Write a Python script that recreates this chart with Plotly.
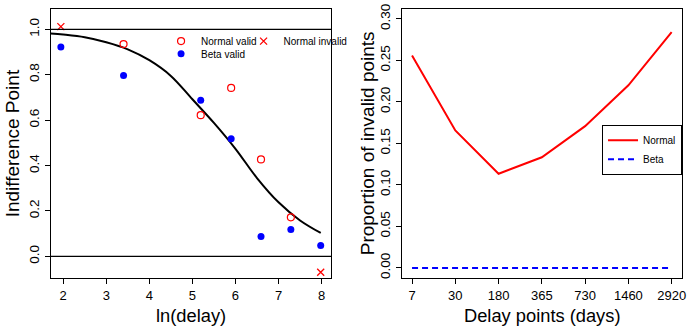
import numpy as np
import plotly.graph_objects as go

# ---------------- data ----------------
delays = [7, 30, 180, 365, 730, 1460, 2920]
delay_labels = ["7", "30", "180", "365", "730", "1460", "2920"]

normal_valid_delays = [30, 180, 365, 730, 1460]
normal_valid_ip = [0.935, 0.622, 0.742, 0.427, 0.172]

normal_invalid_delays = [7, 2920]
normal_invalid_ip = [1.012, -0.070]

beta_valid_delays = [7, 30, 180, 365, 730, 1460, 2920]
beta_valid_ip = [0.922, 0.797, 0.688, 0.518, 0.087, 0.118, 0.048]

fit_lndelay = [1.71, 2.0, 2.5, 3.0, 3.5, 4.0, 4.5, 5.0, 5.5, 6.0, 6.5, 7.0, 7.5, 7.98]
fit_ip = [0.982, 0.977, 0.965, 0.943, 0.912, 0.864, 0.795, 0.692, 0.588, 0.474, 0.345, 0.238, 0.158, 0.103]

prop_invalid_normal = [0.256, 0.1656, 0.1135, 0.1333, 0.1708, 0.220, 0.284]
prop_invalid_beta = [0.0, 0.0, 0.0, 0.0, 0.0, 0.0, 0.0]

left_yticks = [0.0, 0.2, 0.4, 0.6, 0.8, 1.0]
left_xticks = [2, 3, 4, 5, 6, 7, 8]
right_yticks = [0.00, 0.05, 0.10, 0.15, 0.20, 0.25, 0.30]

# ---------------- figure ----------------
W, H = 691, 329
FONT = "Liberation Sans, Arial, sans-serif"
RED = "#FF0000"
BLUE = "#0000FF"

fig = go.Figure()

fig.add_trace(go.Scatter(
    x=fit_lndelay, y=fit_ip, mode="lines", line=dict(color="black", width=2, shape="spline"),
    showlegend=False, xaxis="x", yaxis="y", hoverinfo="skip"))

fig.add_trace(go.Scatter(
    x=np.log(normal_valid_delays), y=normal_valid_ip, mode="markers", name="Normal valid",
    marker=dict(symbol="circle-open", size=7, color=RED, line=dict(width=1.2, color=RED)),
    xaxis="x", yaxis="y", legend="legend"))

fig.add_trace(go.Scatter(
    x=np.log(normal_invalid_delays), y=normal_invalid_ip, mode="markers", name="Normal invalid",
    marker=dict(symbol="x-thin-open", size=7, color=RED, line=dict(width=1.3, color=RED)),
    xaxis="x", yaxis="y", legend="legend2"))

fig.add_trace(go.Scatter(
    x=np.log(beta_valid_delays), y=beta_valid_ip, mode="markers", name="Beta valid",
    marker=dict(symbol="circle", size=7, color=BLUE),
    xaxis="x", yaxis="y", legend="legend4"))

xi = list(range(1, len(delays) + 1))
fig.add_trace(go.Scatter(
    x=xi, y=prop_invalid_normal, mode="lines", name="Normal",
    line=dict(color=RED, width=2), xaxis="x2", yaxis="y2", legend="legend3"))
fig.add_trace(go.Scatter(
    x=xi, y=prop_invalid_beta, mode="lines", name="Beta",
    line=dict(color=BLUE, width=2, dash="6px,4px"), xaxis="x2", yaxis="y2", legend="legend3"))

# reference lines at 0 and 1 on left panel
for yv in (0.0, 1.0):
    fig.add_shape(type="line", xref="x domain", yref="y", x0=0, x1=1, y0=yv, y1=yv,
                  line=dict(color="black", width=1.2))

def px_x(p):
    return p / W

def px_y(p):
    return 1 - p / H

ydom = [px_y(278), px_y(4)]
axis_common = dict(showline=True, linecolor="black", linewidth=1.2, mirror=True,
                   ticks="outside", ticklen=5, tickwidth=1.2, tickcolor="black",
                   showgrid=False, zeroline=False, ticklabeloverflow="allow")
xfont = dict(family=FONT, size=13, color="black")
yfont = dict(family=FONT, size=13.5, color="black")

def small_legend(xp, yp):
    return dict(x=px_x(xp), y=px_y(yp), xanchor="left", yanchor="top",
                bgcolor="rgba(0,0,0,0)", borderwidth=0, itemwidth=30,
                font=dict(family=FONT, size=10, color="black"))

fig.update_layout(
    width=W, height=H,
    margin=dict(l=0, r=0, t=0, b=0),
    paper_bgcolor="white", plot_bgcolor="white",
    font=dict(family=FONT, color="black"),
    xaxis=dict(domain=[px_x(51), px_x(333)], range=[1.71, 8.22], anchor="y",
               tickvals=left_xticks, tickfont=xfont, **axis_common),
    yaxis=dict(domain=ydom, range=[-0.095, 1.09], anchor="x",
               tickvals=left_yticks, ticktext=[f"{v:.1f}" for v in left_yticks],
               tickangle=-90, tickfont=yfont, **axis_common),
    xaxis2=dict(domain=[px_x(404), px_x(686)], range=[0.76, 7.24], anchor="y2",
                tickvals=xi, ticktext=delay_labels, tickfont=xfont, **axis_common),
    yaxis2=dict(domain=ydom, range=[-0.012, 0.312], anchor="x2",
                tickvals=right_yticks, ticktext=[f"{v:.2f}" for v in right_yticks],
                tickangle=-90, tickfont=yfont, **axis_common),
    legend=small_legend(162, 22),
    legend2=small_legend(245, 22),
    legend4=small_legend(162, 35),
    legend3=dict(x=px_x(686), y=px_y(122), xanchor="right", yanchor="top",
                 bgcolor="white", bordercolor="black", borderwidth=1,
                 itemwidth=30, font=dict(family=FONT, size=10, color="black")),
)

# axis titles as annotations
xt_font = dict(family=FONT, size=18.3, color="black")
yt_font = dict(family=FONT, size=19, color="black")
fig.add_annotation(x=px_x(192), y=px_y(316), xref="paper", yref="paper", text="ln(delay)",
                   showarrow=False, font=xt_font, xanchor="center", yanchor="middle")
fig.add_annotation(x=px_x(545), y=px_y(316), xref="paper", yref="paper", text="Delay points (days)",
                   showarrow=False, font=xt_font, xanchor="center", yanchor="middle")
fig.add_annotation(x=px_x(12), y=px_y(141), xref="paper", yref="paper", text="Indifference Point",
                   showarrow=False, font=yt_font, textangle=-90, xanchor="center", yanchor="middle")
fig.add_annotation(x=px_x(370), y=px_y(141), xref="paper", yref="paper", text="Proportion of invalid points",
                   showarrow=False, font=yt_font, textangle=-90, xanchor="center", yanchor="middle")

fig.write_html("out.html")
